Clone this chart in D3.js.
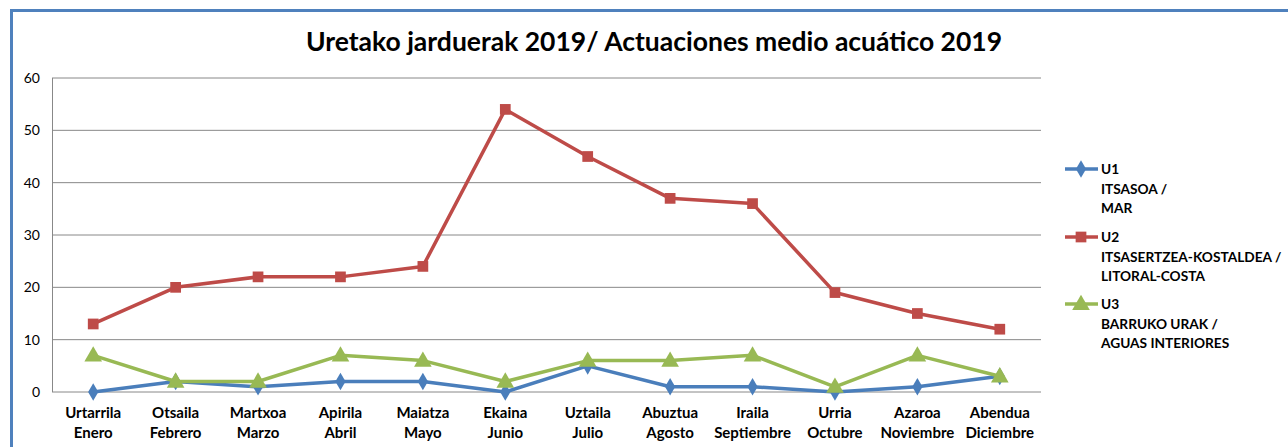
<!DOCTYPE html>
<html>
<head>
<meta charset="utf-8">
<script src="https://cdn.jsdelivr.net/npm/d3@7"></script>
<style>
  body { margin: 0; background: #fff; }
  svg { font-family: Lato, "Open Sans", sans-serif; }
</style>
</head>
<body>
<svg id="chart" width="1288" height="447"></svg>
<script>
// months, basque + spanish
months_eu = ["Urtarrila","Otsaila","Martxoa","Apirila","Maiatza","Ekaina","Uztaila","Abuztua","Iraila","Urria","Azaroa","Abendua"];
months_es = ["Enero","Febrero","Marzo","Abril","Mayo","Junio","Julio","Agosto","Septiembre","Octubre","Noviembre","Diciembre"];

u1_values = [0, 2, 1, 2, 2, 0, 5, 1, 1, 0, 1, 3];
u2_values = [13, 20, 22, 22, 24, 54, 45, 37, 36, 19, 15, 12];
u3_values = [7, 2, 2, 7, 6, 2, 6, 6, 7, 1, 7, 3];

y_ticks = [0, 10, 20, 30, 40, 50, 60];

series_names = ["U1", "U2", "U3"];
series_labels = [["ITSASOA /", "MAR"], ["ITSASERTZEA-KOSTALDEA /", "LITORAL-COSTA"], ["BARRUKO URAK /", "AGUAS INTERIORES"]];

svg = d3.select("#chart");

// outer frame
svg.append("rect")
    .attr("x", 11.5).attr("y", 10.5)
    .attr("width", 1300).attr("height", 460)
    .attr("fill", "none")
    .attr("stroke", "#4f81bd")
    .attr("stroke-width", 3);

svg.append("text")
    .text("Uretako jarduerak 2019/ Actuaciones medio acuático 2019")
    .attr("x", 654).attr("y", 51)
    .attr("text-anchor", "middle")
    .attr("font-size", 26.5)
    .attr("font-weight", "bold")
    .attr("fill", "#000");

x = d3.scaleBand().domain(d3.range(12)).range([52, 1041]);
y = d3.scaleLinear().domain([0, 60]).range([392, 78]);

plot = svg.append("g");

// gridlines
plot.selectAll(".grid")
    .data(y_ticks)
    .join("line")
    .attr("x1", 52).attr("x2", 1041)
    .attr("y1", d => y(d)).attr("y2", d => y(d))
    .attr("stroke", "#888")
    .attr("stroke-width", 1);

plot.append("line")
    .attr("x1", 52.5).attr("x2", 52.5)
    .attr("y1", 78).attr("y2", 392)
    .attr("stroke", "#888");

plot.selectAll(".ytick")
    .data(y_ticks)
    .join("text")
    .text(d => d)
    .attr("x", 40).attr("y", d => y(d) + 5)
    .attr("text-anchor", "end")
    .attr("font-size", 14)
    .attr("fill", "#000");

xlab = plot.selectAll(".xlab")
    .data(d3.range(12))
    .join("text")
    .attr("text-anchor", "middle")
    .attr("font-size", 15)
    .attr("font-weight", "bold")
    .attr("fill", "#000");
xlab.append("tspan")
    .attr("x", d => x(d) + x.bandwidth()/2).attr("y", 418)
    .text(d => months_eu[d]);
xlab.append("tspan")
    .attr("x", d => x(d) + x.bandwidth()/2).attr("y", 438)
    .text(d => months_es[d]);

colors = ["#4a7ebb", "#be4b48", "#98b954"];
symbols = [d3.symbolDiamond, d3.symbolSquare, d3.symbolTriangle];
sizes = [90, 115, 135];
all_values = [u1_values, u2_values, u3_values];

line = d3.line()
    .x((d, i) => x(i) + x.bandwidth()/2)
    .y(d => y(d));

all_values.forEach((vals, s) => {
    plot.append("path")
        .attr("d", line(vals))
        .attr("fill", "none")
        .attr("stroke", colors[s])
        .attr("stroke-width", 3.5)
        .attr("stroke-linejoin", "round");
    plot.selectAll(".m" + s)
        .data(vals)
        .join("path")
        .attr("d", d3.symbol().type(symbols[s]).size(sizes[s]))
        .attr("transform", (d, i) => `translate(${x(i) + x.bandwidth()/2}, ${y(d) + (s == 2 ? 1 : 0)})`)
        .attr("fill", colors[s]);
});

// legend
legend = svg.append("g");
legend_y = [169, 237, 304];
series_names.forEach((name, s) => {
    ly = legend_y[s];
    legend.append("line")
        .attr("x1", 1065).attr("x2", 1098)
        .attr("y1", ly).attr("y2", ly)
        .attr("stroke", colors[s])
        .attr("stroke-width", 3.5);
    legend.append("path")
        .attr("d", d3.symbol().type(symbols[s]).size(sizes[s]))
        .attr("transform", `translate(1081, ${ly + (s == 2 ? 1 : 0)})`)
        .attr("fill", colors[s]);
    t = legend.append("text")
        .attr("font-size", 13.7)
        .attr("font-weight", "bold")
        .attr("fill", "#000");
    t.append("tspan").attr("x", 1101).attr("y", ly + 5).text(name);
    series_labels[s].forEach((lab, k) => {
        t.append("tspan").attr("x", 1101).attr("y", ly + 5 + 19.5*(k+1)).text(lab);
    });
});
</script>
</body>
</html>
